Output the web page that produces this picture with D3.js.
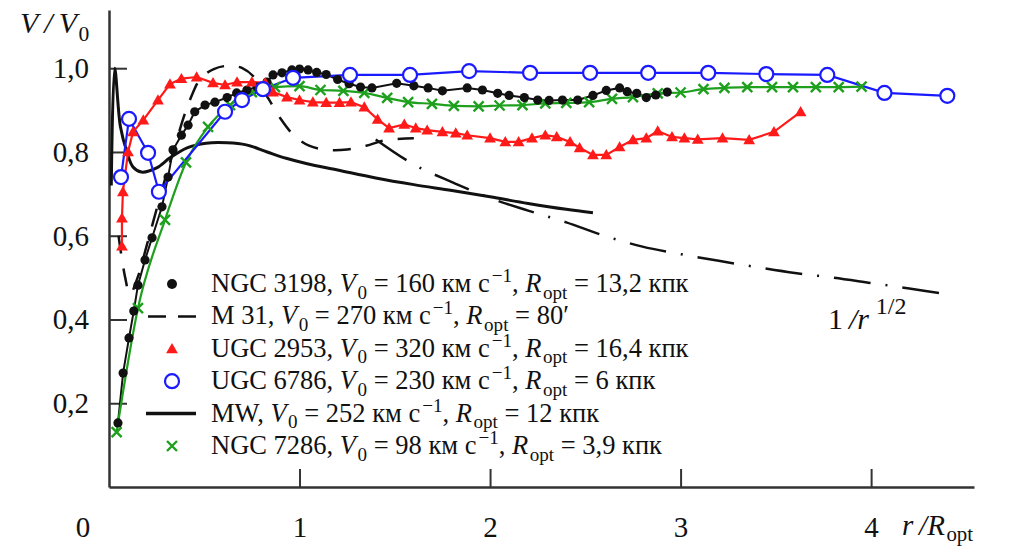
<!DOCTYPE html>
<html><head><meta charset="utf-8">
<script src="https://cdn.jsdelivr.net/npm/d3@7"></script>
<style>
html,body{margin:0;padding:0;background:#fff;}
svg{display:block;}
</style></head>
<body>
<svg id="chart" width="1010" height="546"></svg>
<script>
// ---------- data (x = r/R_opt, y = V/V0) ----------
const xTicks = [1, 2, 3, 4];
const yTicks = [0.2, 0.4, 0.6, 0.8, 1.0];
const yTickLabels = ["0,2", "0,4", "0,6", "0,8", "1,0"];

const ngc3198 = [[0.047,0.153],[0.074,0.272],[0.105,0.356],[0.13,0.42],[0.152,0.482],[0.189,0.542],[0.226,0.595],[0.278,0.669],[0.31,0.74],[0.336,0.805],[0.38,0.84],[0.415,0.864],[0.45,0.896],[0.504,0.912],[0.556,0.919],[0.62,0.93],[0.67,0.941],[0.724,0.948],[0.777,0.955],[0.829,0.967],[0.861,0.984],[0.908,0.989],[0.96,0.996],[1.0,0.998],[1.045,0.996],[1.09,0.99],[1.14,0.985],[1.2,0.973],[1.26,0.963],[1.32,0.955],[1.38,0.953],[1.51,0.964],[1.6,0.958],[1.675,0.953],[1.75,0.946],[1.88,0.953],[1.96,0.948],[2.04,0.94],[2.1,0.935],[2.18,0.93],[2.25,0.924],[2.31,0.923],[2.38,0.924],[2.46,0.924],[2.54,0.935],[2.61,0.947],[2.68,0.953],[2.72,0.944],[2.77,0.94],[2.82,0.93],[2.87,0.936],[2.93,0.943]];

const m31 = [[0.05,0.6],[0.085,0.5],[0.11,0.46],[0.15,0.5],[0.2,0.58],[0.26,0.68],[0.31,0.76],[0.35,0.82],[0.39,0.88],[0.43,0.93],[0.48,0.975],[0.55,0.998],[0.63,1.006],[0.7,1.0],[0.77,0.975],[0.84,0.925],[0.9,0.88],[0.97,0.84],[1.05,0.815],[1.15,0.805],[1.25,0.806],[1.35,0.815],[1.45,0.828],[1.6,0.833]];

const invSqrt = [[1.4,0.83],[1.6,0.77],[1.8,0.728],[2.0,0.69],[2.2,0.66],[2.4,0.632],[2.6,0.6],[2.8,0.574],[3.0,0.556],[3.2,0.54],[3.4,0.525],[3.6,0.511],[3.8,0.5],[4.0,0.487],[4.2,0.474],[4.39,0.461]];

const mw = [[0.012,0.72],[0.03,1.0],[0.06,0.86],[0.094,0.8],[0.126,0.764],[0.17,0.752],[0.25,0.762],[0.32,0.786],[0.41,0.81],[0.51,0.821],[0.62,0.822],[0.72,0.817],[0.83,0.80],[0.93,0.785],[1.04,0.772],[1.2,0.757],[1.4,0.738],[1.6,0.722],[1.8,0.708],[2.0,0.693],[2.2,0.677],[2.4,0.663],[2.54,0.655]];

const ugc2953 = [[0.068,0.575],[0.068,0.642],[0.073,0.705],[0.1,0.8],[0.126,0.848],[0.18,0.876],[0.257,0.924],[0.32,0.962],[0.38,0.975],[0.46,0.979],[0.546,0.965],[0.609,0.96],[0.672,0.967],[0.75,0.967],[0.82,0.965],[0.861,0.943],[0.934,0.931],[1.0,0.924],[1.07,0.919],[1.14,0.918],[1.21,0.918],[1.27,0.919],[1.34,0.907],[1.41,0.878],[1.47,0.857],[1.55,0.866],[1.61,0.857],[1.67,0.852],[1.75,0.848],[1.82,0.845],[1.88,0.84],[2.0,0.833],[2.08,0.824],[2.15,0.824],[2.22,0.833],[2.29,0.84],[2.35,0.836],[2.42,0.824],[2.47,0.81],[2.54,0.793],[2.61,0.793],[2.68,0.812],[2.75,0.829],[2.82,0.833],[2.88,0.85],[2.955,0.836],[3.02,0.833],[3.09,0.83],[3.22,0.833],[3.36,0.829],[3.49,0.848],[3.63,0.896]];

const ugc6786 = [[0.063,0.74],[0.105,0.879],[0.205,0.798],[0.262,0.705],[0.609,0.896],[0.698,0.924],[0.808,0.95],[0.966,0.977],[1.265,0.984],[1.58,0.984],[1.89,0.993],[2.21,0.989],[2.525,0.989],[2.83,0.989],[3.145,0.989],[3.45,0.986],[3.77,0.984],[4.07,0.941],[4.40,0.934]];

const ngc7286 = [[0.04,0.131],[0.152,0.427],[0.294,0.638],[0.404,0.775],[0.52,0.86],[0.635,0.912],[0.75,0.943],[0.871,0.955],[1.0,0.957],[1.11,0.948],[1.23,0.946],[1.34,0.941],[1.46,0.929],[1.57,0.919],[1.695,0.915],[1.81,0.91],[1.94,0.909],[2.05,0.911],[2.17,0.912],[2.29,0.916],[2.40,0.917],[2.52,0.919],[2.64,0.927],[2.75,0.931],[2.88,0.94],[3.0,0.942],[3.12,0.95],[3.23,0.953],[3.35,0.955],[3.48,0.955],[3.59,0.955],[3.71,0.955],[3.83,0.955],[3.95,0.956]];

// legend text pieces: [text, style]  n=normal, i=italic, sub, sup
const legendLabels = [
  [["NGC 3198, ","n"],["V","i"],["0","sub"],[" = 160 км с","n"],["−1","sup"],[", ","n"],["R","i"],["opt","sub"],[" = 13,2 кпк","n"]],
  [["M 31, ","n"],["V","i"],["0","sub"],[" = 270 км с","n"],["−1","sup"],[", ","n"],["R","i"],["opt","sub"],[" = 80′","n"]],
  [["UGC 2953, ","n"],["V","i"],["0","sub"],[" = 320 км с","n"],["−1","sup"],[", ","n"],["R","i"],["opt","sub"],[" = 16,4 кпк","n"]],
  [["UGC 6786, ","n"],["V","i"],["0","sub"],[" = 230 км с","n"],["−1","sup"],[", ","n"],["R","i"],["opt","sub"],[" = 6 кпк","n"]],
  [["MW, ","n"],["V","i"],["0","sub"],[" = 252 км с","n"],["−1","sup"],[", ","n"],["R","i"],["opt","sub"],[" = 12 кпк","n"]],
  [["NGC 7286, ","n"],["V","i"],["0","sub"],[" = 98 км с","n"],["−1","sup"],[", ","n"],["R","i"],["opt","sub"],[" = 3,9 кпк","n"]]
];
const legendKinds = ["dot","dash","tri","circ","solid","cross"];

// ---------- scales ----------
const FONT = '"Liberation Serif", "Times New Roman", Tinos, serif';
const svg = d3.select("#chart").style("font-family", FONT);
const x = d3.scaleLinear().domain([0, 4.54]).range([109, 974]);
const y = d3.scaleLinear().domain([0, 1.139]).range([487, 10]);

const RED = "#ff1a1a", BLUE = "#1a1aff", GREEN = "#1ea01e";
function setFont(sel) { return sel.style("font-family", FONT); }

// ---------- axes ----------
const yAxis = d3.axisLeft(y).tickValues(yTicks).tickFormat((d,i)=>yTickLabels[i])
  .tickSizeInner(-18).tickSizeOuter(0).tickPadding(20);
const gy = svg.append("g").attr("transform", `translate(${x(0)},0)`).call(yAxis);
const xAxis = d3.axisBottom(x).tickValues(xTicks).tickFormat(d3.format("d"))
  .tickSizeInner(-18).tickSizeOuter(0).tickPadding(29);
const gx = svg.append("g").attr("transform", `translate(0,${y(0)})`).call(xAxis);
[gx, gy].forEach(g => {
  g.attr("font-family", null);
  setFont(g).attr("font-size", 29);
  g.select(".domain").attr("stroke", "#333").attr("stroke-width", 2.5);
  g.selectAll(".tick line").attr("stroke", "#333").attr("stroke-width", 2);
  setFont(g.selectAll(".tick text")).attr("font-size", 29).attr("fill", "#111");
});
setFont(svg.append("text")).attr("x", 83).attr("y", 537).attr("text-anchor", "middle")
  .attr("font-size", 29).attr("fill", "#111").text("0");

// rich text helper
function rich(sel, parts, fs, subK = 0.28, supK = 0.42, small = 0.72) {
  let shift = 0;
  setFont(sel);
  parts.forEach(([t, s]) => {
    const ts = sel.append("tspan").text(t);
    let target = 0;
    if (s === "i") ts.style("font-style", "italic");
    if (s === "sub") { target = subK * fs; ts.attr("font-size", fs * small).attr("dx", 1.5); }
    if (s === "sup") { target = -supK * fs; ts.attr("font-size", fs * small).attr("dx", 2); }
    ts.attr("dy", target - shift);
    shift = target;
  });
  return sel;
}

// axis titles
rich(svg.append("text").attr("x", 20).attr("y", 33).attr("font-size", 30).attr("fill", "#111"),
  [["V","i"],["\u2009/\u2009","i"],["V","i"],["0","sub"]], 30);
rich(svg.append("text").attr("x", 902).attr("y", 535).attr("font-size", 29).attr("fill", "#111"),
  [["r","i"],["\u2009/","i"],["R","i"],["opt","sub"]], 29, 0.2);
rich(svg.append("text").attr("x", 828).attr("y", 329).attr("font-size", 30).attr("fill", "#111"),
  [["1","n"],["\u2009/","i"],["r","i"],["\u20091/2","sup"]], 30, 0.28, 0.5, 0.8);

// ---------- lines ----------
const linLine = d3.line().x(d => x(d[0])).y(d => y(d[1]));
const smooth = d3.line().x(d => x(d[0])).y(d => y(d[1])).curve(d3.curveCatmullRom.alpha(0.5));
const mono = d3.line().x(d => x(d[0])).y(d => y(d[1])).curve(d3.curveMonotoneX);

const plot = svg.append("g");
plot.append("path").attr("d", smooth(invSqrt)).attr("fill", "none").attr("stroke", "#111")
  .attr("stroke-width", 2.5).attr("stroke-dasharray", "37,15,2,15");
plot.append("path").attr("d", smooth(m31)).attr("fill", "none").attr("stroke", "#111")
  .attr("stroke-width", 2.5).attr("stroke-dasharray", "18,15");
plot.append("path").attr("d", smooth(mw)).attr("fill", "none").attr("stroke", "#111")
  .attr("stroke-width", 3);
plot.append("path").attr("d", linLine(ngc3198)).attr("fill", "none").attr("stroke", "#111").attr("stroke-width", 2);
plot.append("path").attr("d", mono(ngc7286)).attr("fill", "none").attr("stroke", GREEN).attr("stroke-width", 2.2);
plot.append("path").attr("d", linLine(ugc6786)).attr("fill", "none").attr("stroke", BLUE).attr("stroke-width", 2.2);
plot.append("path").attr("d", linLine(ugc2953)).attr("fill", "none").attr("stroke", RED).attr("stroke-width", 2.2);

// ---------- markers ----------
const tri = d3.symbol().type(d3.symbolTriangle).size(60);
function drawMarker(g, kind, cx, cy, legend) {
  if (kind === "dot") g.append("circle").attr("cx", cx).attr("cy", cy).attr("r", legend ? 5 : 4.6).attr("fill", "#111");
  if (kind === "tri") g.append("path").attr("d", tri()).attr("transform", `translate(${cx},${cy + 1})`).attr("fill", RED);
  if (kind === "circ") g.append("circle").attr("cx", cx).attr("cy", cy).attr("r", 7).attr("fill", "#fff").attr("stroke", BLUE).attr("stroke-width", 2.2);
  if (kind === "cross") {
    const s = 5;
    g.append("path").attr("d", `M${cx - s},${cy - s}L${cx + s},${cy + s}M${cx - s},${cy + s}L${cx + s},${cy - s}`)
      .attr("stroke", GREEN).attr("stroke-width", 2.4).attr("fill", "none");
  }
}
const mk = svg.append("g");
ngc7286.forEach(d => drawMarker(mk, "cross", x(d[0]), y(d[1])));
ngc3198.forEach(d => drawMarker(mk, "dot", x(d[0]), y(d[1])));
ugc2953.forEach(d => drawMarker(mk, "tri", x(d[0]), y(d[1])));
ugc6786.forEach(d => drawMarker(mk, "circ", x(d[0]), y(d[1])));

// ---------- legend ----------
const lg = svg.append("g");
legendLabels.forEach((parts, i) => {
  const cy = 284 + i * 32.4;
  const kind = legendKinds[i];
  if (kind === "dash") {
    lg.append("line").attr("x1", 148).attr("x2", 198).attr("y1", cy).attr("y2", cy)
      .attr("stroke", "#111").attr("stroke-width", 2.5).attr("stroke-dasharray", "18,12");
  } else if (kind === "solid") {
    lg.append("line").attr("x1", 146).attr("x2", 196).attr("y1", cy).attr("y2", cy)
      .attr("stroke", "#111").attr("stroke-width", 3.5);
  } else {
    drawMarker(lg, kind, 172, cy, true);
  }
  rich(lg.append("text").attr("x", 211).attr("y", cy + 8).attr("font-size", 26.5).attr("fill", "#111"), parts, 26.5, 0.25, 0.38);
});
</script>
</body></html>
